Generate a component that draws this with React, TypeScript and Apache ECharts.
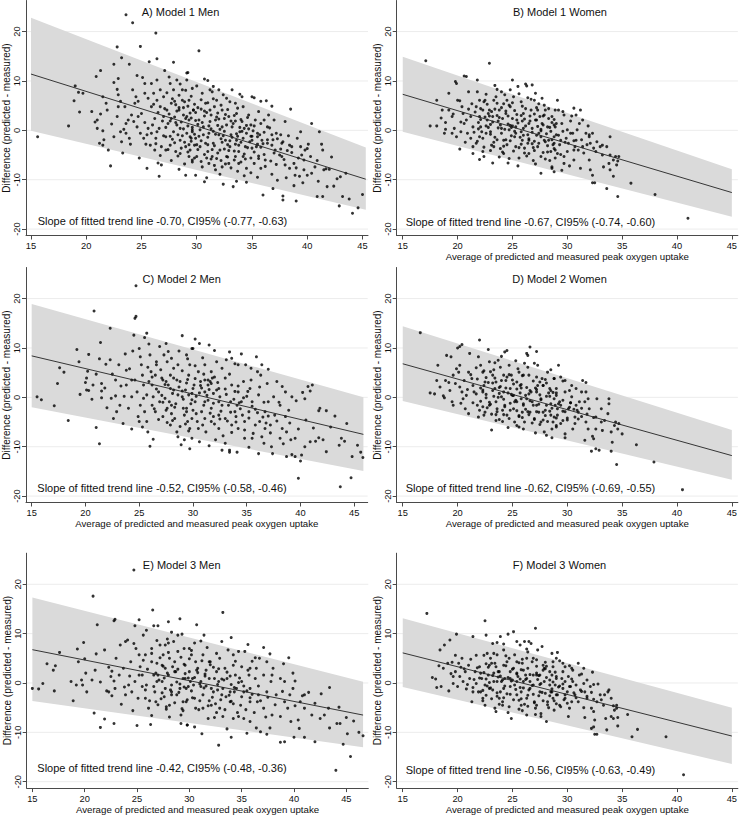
import React, { useEffect, useRef } from "react";
import * as echarts from "echarts";

const FONT = "'Liberation Sans', Arial, Helvetica, sans-serif";

const panelTitles = ["A) Model 1 Men", "B) Model 1 Women", "C) Model 2 Men", "D) Model 2 Women", "E) Model 3 Men", "F) Model 3 Women"];
const slopeTexts = [
  "Slope of fitted trend line -0.70, CI95% (-0.77, -0.63)",
  "Slope of fitted trend line -0.67, CI95% (-0.74, -0.60)",
  "Slope of fitted trend line -0.52, CI95% (-0.58, -0.46)",
  "Slope of fitted trend line -0.62, CI95% (-0.69, -0.55)",
  "Slope of fitted trend line -0.42, CI95% (-0.48, -0.36)",
  "Slope of fitted trend line -0.56, CI95% (-0.63, -0.49)",
];
const xTickValues = [15, 20, 25, 30, 35, 40, 45];
const yTickValues = [-20, -10, 0, 10, 20];
const xAxisTitle = "Average of predicted and measured peak oxygen uptake";
const yAxisTitle = "Difference (predicted - measured)";

// trend lines: [x, y] at both ends
const trendA = [[15, 11.4], [45.3, -9.9]];
const trendB = [[15, 7.3], [45, -12.6]];
const trendC = [[15, 8.4], [45.85, -7.5]];
const trendD = [[15, 6.8], [45, -11.8]];
const trendE = [[15, 6.75], [46.6, -6.5]];
const trendF = [[15, 6.1], [45, -10.75]];

// limits band: [x, lower, upper] at both ends
const bandA = [[15, -0.1, 22.8], [45.3, -16.1, -3.5]];
const bandB = [[15, -0.3, 14.9], [45, -17.5, -7.9]];
const bandC = [[15, -2.0, 18.9], [45.85, -14.9, 0.0]];
const bandD = [[15, -0.75, 14.4], [45, -16.7, -6.6]];
const bandE = [[15, -3.65, 17.3], [46.6, -13.0, 0.27]];
const bandF = [[15, -0.8, 13.1], [45, -16.4, -5.0]];

const pointsA = [[23.6,23.4],[24.2,21.8],[26.3,19.7],[15.6,-1.3],[22.8,16.9],[24.9,17.0],[23.2,14.7],[22.5,13.4],[23.9,13.4],[21.3,12.1],[20.9,10.9],[22.9,10.5],[24.6,11.1],[25.7,13.9],[26.4,14.5],[27.1,12.1],[19.0,9.0],[19.3,7.7],[19.7,7.5],[18.9,6.0],[19.4,3.7],[18.4,0.9],[21.5,6.8],[21.8,5.5],[22.8,8.3],[22.9,7.2],[21.3,3.3],[20.8,1.7],[21.0,2.1],[21.0,0.4],[21.2,-2.6],[21.5,-3.0],[22.0,-4.0],[22.2,-7.2],[21.5,-0.1],[21.9,4.1],[22.9,4.8],[23.5,4.8],[23.6,1.4],[23.8,2.1],[23.6,-0.6],[23.9,-1.6],[24.0,-2.8],[23.4,0.2],[24.4,5.5],[24.5,6.8],[24.2,8.2],[24.7,2.8],[25.0,3.4],[25.3,1.6],[25.5,-0.9],[25.4,-2.8],[25.8,-3.0],[25.5,-7.7],[26.5,-6.6],[26.8,-7.0],[26.1,7.5],[25.9,9.5],[26.4,10.2],[25.3,9.5],[25.1,10.7],[26.7,4.8],[26.4,6.1],[27.0,6.8],[27.3,4.1],[26.2,2.4],[26.6,0.4],[26.3,-1.6],[26.8,-3.3],[27.2,-4.0],[27.6,9.5],[27.9,8.2],[28.2,10.2],[27.9,13.8],[28.7,8.2],[27.7,2.4],[28.4,4.1],[28.7,6.1],[29.1,10.2],[29.1,11.6],[29.0,-9.1],[28.5,-4.7],[29.3,-5.3],[29.6,-6.4],[27.9,-0.3],[28.5,-2.0],[29.0,-3.3],[28.2,1.1],[29.3,2.1],[29.6,-0.3],[29.4,-1.3],[27.4,1.4],[27.7,5.5],[28.8,3.1],[28.5,0.4],[29.1,-0.6],[29.7,4.1],[29.8,-3.0],[27.2,-1.3],[27.6,-3.0],[28.1,-4.3],[27.0,2.8],[25.9,4.8],[25.6,0.4],[24.6,0.7],[24.9,-0.6],[24.1,3.1],[22.8,2.8],[22.3,1.3],[22.5,-1.3],[23.1,-0.3],[23.2,-2.3],[26.7,8.2],[25.6,6.5],[25.3,7.5],[26.2,-4.0],[25.9,-0.6],
[30.2,16.1],[30.7,10.4],[31.0,10.1],[31.5,8.9],[29.2,11.7],[38.5,4.3],[40.4,1.4],[41.1,-0.3],[35.0,6.8],[35.2,6.6],[35.8,5.9],[36.3,6.0],[32.7,6.5],[33.0,5.8],[29.9,-9.1],[30.7,-10.4],[32.4,-10.9],[33.6,-10.3],[34.5,-10.5],[33.3,-11.4],[36.0,-13.1],[36.9,-11.8],[37.8,-13.3],[37.8,-14.1],[39.0,-14.3],[40.9,-13.4],[41.4,-13.4],[41.8,-11.4],[42.4,-11.3],[42.9,-15.3],[43.2,-13.4],[43.8,-13.9],[44.1,-16.8],[44.6,-15.7],[45.0,-13.0],[43.5,-8.7],[42.0,-7.9],[41.7,-7.8],[41.4,-4.0],[41.3,-2.8],[41.5,-8.0],[40.1,-2.8],[39.8,-4.0],[39.7,-6.0],[39.7,-8.0],[40.0,-9.1],[39.3,-9.3],[38.9,-9.1],[38.8,-6.7],[38.4,-7.7],[38.0,-7.0],[37.7,-5.3],[37.5,-5.0],[37.6,-0.9],[37.7,-2.6],[37.1,-4.0],[36.8,-3.0],[36.8,-0.9],[36.4,0.7],[36.1,2.1],[36.5,3.1],[37.0,2.1],[38.3,-1.1],[38.6,-3.3],[39.1,-1.6],[39.4,-3.3],[39.5,-5.0],[40.3,-5.3],[40.7,-7.4],[36.2,-6.0],[35.6,-5.7],[35.8,-7.7],[35.2,-6.7],[34.5,-7.7],[34.2,-5.3],[33.8,-6.7],[33.5,-5.3],[32.9,-6.7],[32.7,-5.3],[32.3,-7.4],[31.7,-8.0],[31.1,-6.7],[30.5,-7.4],[29.6,-6.0],[29.4,-4.0],[29.3,6.1],[29.7,4.1],[30.2,2.1],[30.6,0.7],[31.1,-0.6],[29.9,-1.6],[30.3,-3.3],[31.0,-4.3],[31.5,-2.6],[32.0,-0.9],[32.3,0.7],[31.7,2.1],[31.2,4.1],[30.8,5.5],[31.8,6.1],[32.3,4.1],[32.9,2.8],[33.2,0.7],[32.6,-2.0],[33.0,-3.3],[33.6,-2.0],[33.9,-0.3],[34.1,1.8],[33.6,3.4],[33.5,5.5],[34.2,4.8],[34.7,3.1],[34.9,1.1],[34.5,-0.6],[35.0,-2.0],[35.5,-0.6],[35.3,2.1],[35.6,3.8],[35.9,-2.0],[35.0,-3.6],[34.4,-3.3],[33.8,-4.3],[32.1,-4.0],[31.4,-5.3],[30.0,-5.3],[29.6,0.1],[29.1,2.8],[32.0,8.2],[32.4,7.2],[31.4,7.8],[30.5,7.5],[29.6,8.5],[33.2,8.2],[34.1,6.8],
[27.3,7.6],[27.8,6.4],[28.1,5.2],[28.4,7.1],[28.9,5.8],[29.2,4.9],[29.5,6.9],[29.8,5.3],[30.1,4.6],[30.4,6.2],[30.7,3.9],[31.0,5.6],[31.3,3.1],[31.6,4.8],[31.9,3.5],[32.2,5.1],[32.5,2.4],[32.8,4.2],[33.1,1.9],[33.4,3.0],[33.7,4.5],[34.0,2.2],[34.3,0.4],[34.6,2.6],[34.9,-1.2],[35.2,0.9],[35.5,-2.8],[35.8,1.4],[36.1,-0.4],[36.4,-1.9],[26.1,5.3],[26.5,3.6],[26.9,1.9],[27.2,0.6],[27.5,3.3],[27.8,-1.8],[28.0,2.7],[28.3,-0.9],[28.6,1.7],[28.9,-2.4],[29.2,0.9],[29.5,2.5],[29.8,-0.8],[30.1,1.2],[30.4,-2.1],[30.7,2.9],[31.0,-1.4],[31.3,0.3],[31.6,-3.1],[31.9,1.0],[32.2,-1.7],[32.5,-0.2],[32.8,-2.9],[33.1,-0.9],[33.4,-4.2],[33.7,-1.2],[34.0,-2.4],[34.3,-4.8],[34.6,-3.5],[34.9,-5.6],[35.2,-4.4],[35.5,-1.3],[35.8,-3.4],[36.1,-4.9],[36.4,-2.6],[36.7,-6.2],[37.0,-4.6],[37.3,-1.7],[37.6,-3.8],[37.9,-5.9],[38.2,-4.1],[26.3,-2.7],[26.7,-5.1],[27.0,-1.1],[27.4,-3.9],[27.7,-6.1],[28.0,-2.5],[28.3,-5.2],[28.6,-3.6],[28.9,-6.8],[29.2,-4.4],[29.5,-2.2],[29.8,-5.6],[30.1,-3.9],[30.4,-6.3],[30.7,-4.9],[31.0,-2.9],[31.3,-5.8],[31.6,-7.1],[31.9,-4.6],[32.2,-6.1],[32.5,-3.8],[32.8,-5.4],[33.1,-7.6],[33.4,-6.0],[33.7,-8.3],[34.0,-6.4],[34.3,-9.2],[34.9,-8.6],[35.5,-9.5],[36.2,-7.3],[36.8,-8.9],[37.3,-10.1],[38.1,-9.6],[38.8,-11.2],[39.6,-10.6],[40.4,-8.7],[41.0,-10.3],[42.7,-9.8],[26.0,1.1],[26.4,-0.3],[27.1,4.4],[27.6,1.9],[28.2,3.9],[28.8,0.3],[29.0,8.1],[29.4,3.5],[29.9,2.0],[30.3,0.1],[30.6,-0.9],[30.9,3.6],[31.2,1.8],[31.5,-0.2],[31.8,2.7],[32.1,0.2],[32.4,-1.1],[32.7,1.1],[33.0,-2.1],[33.3,1.4],[33.6,-0.7],[33.9,0.6],[34.2,-1.6],[34.5,1.0],[34.8,-2.3],[35.1,-0.1],[35.4,-3.3],[35.7,-0.9],[36.0,-2.7],[36.6,0.5],[37.2,-0.6],[37.8,-2.3],[38.6,-4.5],[39.2,-5.6],[40.0,-3.7],[40.9,-6.1],[42.2,-5.4],[43.0,-9.4],[27.5,10.8],[28.5,9.4],[30.0,9.0],[31.2,8.2],[33.9,7.3],[36.8,4.9],[38.0,1.8],[39.4,-0.3],[24.7,5.9],[25.2,-1.6],[24.3,1.8],[23.1,5.9],[22.5,9.7],[20.5,3.8],[21.6,-1.9],[24.8,-5.6],[23.3,-4.6],[26.6,-9.3],[28.4,-7.9],[30.9,-9.6],[32.1,-8.9],
[28.1,1.6],[28.4,4.6],[28.7,-1.1],[29.0,2.4],[29.3,-2.9],[29.6,0.6],[29.9,3.6],[30.2,-1.2],[30.5,1.6],[30.8,-2.6],[31.1,0.9],[31.4,-3.9],[31.7,-0.8],[32.0,2.3],[32.3,-2.4],[32.6,3.2],[32.9,-4.1],[33.2,-1.4],[33.5,1.9],[33.8,-3.0],[34.1,-0.2],[34.4,-5.8],[34.7,0.3],[35.0,-1.2],[27.6,-1.2],[28.0,5.9],[28.8,4.6],[29.5,-1.6],[30.0,-2.9],[30.9,-5.6],[31.8,-5.7],[32.6,-6.8],[33.5,-2.8],[35.6,-5.2],[36.9,-1.9],[38.4,-3.0],[37.2,-6.9],[39.0,-7.6],[30.4,4.3],[31.5,6.4]];

const pointsB = [[17.1,14.1],[17.5,0.9],[18.1,0.9],[18.1,6.1],[18.6,4.1],[19.2,7.5],[19.2,4.1],[18.9,1.6],[18.9,0.2],[18.8,-0.6],[19.5,-0.6],[19.8,9.9],[19.9,9.5],[19.7,0.4],[19.5,2.8],[19.9,-1.3],[20.2,-3.8],[20.0,6.1],[20.2,6.0],[20.6,11.0],[20.8,10.9],[20.5,3.4],[20.8,2.1],[20.9,-0.6],[21.2,-1.6],[21.4,-3.3],[21.4,-4.7],[21.0,7.8],[21.8,10.2],[21.8,7.8],[22.0,6.1],[21.7,4.8],[22.0,2.8],[22.1,0.7],[22.0,-1.3],[21.7,-2.6],[22.3,-4.3],[22.4,-5.3],[22.9,13.6],[23.2,-6.6],[23.3,-3.3],[23.5,6.8],[23.6,8.3],[23.8,4.1],[23.9,1.1],[24.0,-0.6],[24.2,-2.0],[24.2,-4.7],[24.3,7.2],[24.5,6.1],[24.7,-5.7],[25.0,10.2],[24.8,8.2],[24.8,4.8],[25.0,2.4],[25.3,0.7],[25.2,-1.3],[25.3,-3.3],[25.5,-7.2],[25.5,8.9],[25.8,5.8],[26.0,3.4],[26.2,9.4],[26.3,9.0],[26.5,1.4],[26.5,-2.0],[26.5,-4.7],[26.8,9.2],[27.1,7.5],[27.0,6.1],[27.3,4.1],[27.1,2.1],[27.4,-0.6],[27.3,-3.3],[27.6,-5.3],[27.6,-8.7],[27.7,6.5],[27.9,3.1],[28.2,0.7],[28.3,-2.0],[28.5,-4.3],[28.6,-7.7],[28.8,-8.4],[28.9,4.1],[29.1,6.1],[22.9,4.1],[22.7,2.1],[22.6,-0.6],[23.0,-0.3],[23.2,2.8],[23.6,5.5],[24.4,3.4],[24.7,0.1],[25.8,-0.3],[25.9,-2.0],[26.1,-3.6],[26.8,0.4],[26.7,4.1],[27.7,1.4],[27.9,-2.0],[28.3,2.4],[28.8,1.1],[28.8,-2.6],[29.1,-4.7],[22.5,6.1],[22.3,4.1],[21.4,0.7],[21.2,2.8],[20.6,1.4],[20.3,-0.3],
[29.2,4.1],[29.7,3.1],[28.6,2.8],[29.5,1.4],[28.9,0.7],[30.0,0.1],[28.8,-1.3],[29.4,-2.0],[30.1,-2.6],[28.9,-4.0],[29.7,-5.3],[28.6,-7.4],[29.7,-6.7],[30.6,-6.0],[30.6,-4.0],[30.8,-2.0],[30.5,-0.6],[30.9,0.1],[31.1,1.4],[30.8,3.1],[30.6,4.5],[31.4,2.1],[31.7,-0.6],[32.0,-0.9],[32.3,-0.6],[32.1,-2.6],[31.4,-3.3],[32.0,-6.0],[32.1,-8.0],[32.3,-9.1],[32.3,-10.6],[32.5,-10.6],[31.2,-7.7],[32.6,-4.3],[33.0,-3.3],[33.2,-5.0],[33.3,-7.4],[33.6,-11.8],[33.9,-8.0],[33.8,-6.7],[33.9,-5.0],[34.2,-6.0],[34.4,-5.3],[34.5,-7.0],[34.6,-6.2],[34.7,-5.3],[34.2,-9.3],[34.6,-13.4],[35.8,-10.7],[38.0,-13.0],[41.0,-17.8],[32.7,-2.3],[33.6,-3.3],[33.9,-1.3],[33.2,-3.0],[32.0,-1.3],[31.2,4.1],
[21.3,5.4],[21.6,3.7],[21.9,1.6],[22.2,-0.3],[22.5,2.7],[22.8,0.6],[23.1,3.8],[23.4,-1.4],[23.7,1.9],[24.0,4.6],[24.3,0.2],[24.6,2.9],[24.9,-1.1],[25.2,4.0],[25.5,1.5],[25.8,-2.8],[26.1,2.3],[26.4,-0.9],[26.7,6.3],[27.0,-2.2],[27.3,0.8],[27.6,-1.3],[27.9,5.1],[28.2,-3.1],[28.5,-0.2],[28.8,2.2],[21.5,-0.4],[21.8,-2.2],[22.1,4.4],[22.4,-3.4],[22.7,5.3],[23.0,1.2],[23.3,-2.4],[23.6,3.0],[23.9,-3.7],[24.2,5.4],[24.5,-2.9],[24.8,1.0],[25.1,-4.2],[25.4,3.2],[25.7,-1.4],[26.0,0.4],[26.3,-5.2],[26.6,2.9],[26.9,-3.5],[27.2,-1.0],[27.5,2.8],[27.8,-4.5],[28.1,-0.7],[28.4,-6.1],[28.7,-2.9],[29.0,-0.9],[21.0,4.3],[20.4,4.8],[20.7,-2.4],[22.6,7.3],[23.4,9.1],[24.0,7.8],[24.6,-6.6],[25.1,6.8],[25.6,7.4],[26.9,-6.1],[27.4,5.4],[28.0,-5.8],[28.6,1.6],[29.3,-2.9],[29.9,-1.6],[30.3,1.9],[30.7,-3.3],[31.5,-4.6],[31.9,0.9],[29.5,-8.1],[30.2,-7.2],[23.0,-4.1],[23.8,-5.4],[22.0,-5.9],[24.9,0.6],[25.9,1.9],[26.5,-1.7],[27.0,3.3],[27.6,0.2],[24.4,-1.9],[25.3,-0.6],[23.7,0.5],[22.9,2.9],[26.2,4.4],[27.8,1.1],[28.3,4.4],[21.9,0.3],[20.3,1.7],[19.6,3.3],[18.5,2.5],[24.1,2.4],[25.0,5.6],[26.8,-2.7],[28.9,-5.6],
[22.1,2.2],[22.3,-1.6],[22.6,0.9],[22.8,3.4],[23.0,-0.8],[23.2,1.7],[23.4,4.3],[23.6,-1.9],[23.8,2.6],[24.0,0.4],[24.2,-3.2],[24.4,3.9],[24.6,1.3],[24.8,-2.1],[25.0,0.9],[25.2,-0.2],[25.4,2.1],[25.6,-3.5],[25.8,3.0],[26.0,-1.0],[26.2,0.9],[26.4,-2.6],[26.6,1.9],[26.8,-0.4],[27.0,-4.1],[27.2,2.1],[27.4,-2.6],[27.6,-0.1],[27.8,2.9],[28.0,-2.3],[28.2,-4.4],[28.4,0.6],[28.6,-1.9],[28.8,-3.7],[29.0,1.4],[29.2,-1.0],[29.4,-4.9],[29.6,-0.2],[29.8,-2.4],[30.0,-4.3],[30.3,-0.6],[30.6,-2.1],[31.0,-4.0],[31.3,-1.9],[31.8,-2.9],[32.4,-3.6],[23.1,-3.0],[24.1,-4.4],[25.6,-5.6],[26.1,-4.6],[27.1,-6.8],[22.4,5.8],[23.3,6.1],[24.7,5.1],[25.9,4.9],[26.4,6.6],[27.2,4.6],[28.0,4.1],[29.6,3.8],[30.4,2.9]];

const pointsC = [[15.5,0.1],[15.9,-0.5],[17.1,-1.7],[17.4,2.8],[17.6,6.0],[18.0,5.1],[18.4,-4.7],[19.2,9.7],[19.4,7.2],[20.0,3.0],[20.1,1.5],[20.3,1.4],[20.3,8.7],[20.2,5.3],[20.1,3.9],[20.8,17.5],[20.7,2.5],[21.0,4.7],[21.0,-6.1],[21.3,-9.4],[21.3,7.8],[21.4,11.1],[21.5,2.8],[21.5,1.3],[21.5,-0.1],[21.9,6.7],[22.0,-2.1],[22.3,14.0],[22.3,7.6],[22.6,-4.3],[22.8,3.5],[22.8,0.3],[23.1,6.6],[23.3,2.3],[23.5,-5.3],[23.7,8.8],[23.8,5.5],[24.0,-2.2],[24.4,9.4],[24.3,3.5],[24.5,12.6],[24.6,16.0],[24.7,16.4],[24.7,22.6],[24.6,3.5],[24.8,1.1],[24.9,-3.9],[25.0,-4.9],[25.0,9.9],[25.1,8.2],[25.2,6.6],[25.3,4.5],[25.4,2.5],[25.4,-0.2],[25.5,-2.9],[25.5,12.1],[25.7,13.0],[25.8,-7.0],[25.9,10.8],[26.0,8.6],[26.1,5.2],[26.2,2.5],[26.2,-1.6],[26.3,-8.5],[26.5,-2.9],[26.6,6.6],[26.8,1.1],[26.9,10.3],[27.1,3.9],[27.2,-3.9],[27.4,-0.2],[27.5,10.9],[27.6,7.2],[27.7,9.3],[27.9,4.5],[28.0,-1.6],[28.2,1.5],[28.3,-4.3],[28.5,-7.0],[28.6,-8.0],[28.6,6.6],[28.8,3.2],[29.0,12.5],[29.0,0.1],[29.1,-2.2],[29.2,-8.6],[29.4,8.6],[29.5,-4.9],[29.6,4.5],[29.7,-6.3],[29.9,-0.5],[30.0,9.9],[30.1,2.5],[25.7,0.5],[26.3,0.1],[26.9,-0.9],[27.6,-2.2],[27.7,2.5],[28.2,5.9],[28.5,3.5],[29.3,1.5],[29.4,-2.9],[27.9,-5.6],[27.2,3.5],[26.5,4.5],[25.9,3.2],[24.3,0.1],[23.8,2.5],[23.2,-1.6],[22.9,-2.9],[22.4,-0.2],[25.1,-1.6],[25.7,-4.9],
[30.2,11.8],[30.6,10.9],[31.5,10.6],[29.9,9.9],[35.9,8.2],[33.6,7.9],[33.9,6.8],[34.2,6.6],[34.9,6.6],[36.4,6.6],[37.0,5.7],[36.3,4.5],[36.0,5.2],[40.7,2.2],[41.1,2.5],[39.2,0.1],[40.4,-0.3],[41.8,-2.2],[42.4,-2.7],[41.7,-2.7],[40.9,1.3],[39.8,-16.4],[43.7,-18.1],[44.7,-16.3],[43.8,-8.3],[44.1,-8.9],[44.8,-12.0],[45.3,-9.7],[45.8,-12.2],[45.6,-11.1],[43.6,-9.7],[42.4,-11.0],[42.1,-8.6],[41.7,-8.2],[41.4,-8.9],[40.9,-9.0],[40.4,-10.0],[40.1,-11.7],[40.0,-12.9],[39.5,-12.0],[39.2,-11.6],[38.7,-12.0],[39.5,-8.3],[39.1,-8.6],[38.7,-7.0],[38.3,-6.3],[38.1,-8.3],[37.4,-11.4],[37.3,-10.0],[36.1,-11.4],[35.5,-8.3],[34.8,-8.3],[34.1,-11.1],[33.4,-11.1],[33.4,-10.7],[32.7,-10.7],[32.1,-8.6],[30.6,-9.0],[29.9,-8.3],[37.2,-5.6],[36.7,-6.3],[36.2,-4.9],[35.8,-5.6],[37.6,-3.6],[38.1,-1.6],[38.6,-3.9],[37.5,0.1],[37.0,-0.9],[36.7,-2.9],[35.5,-0.9],[35.2,-2.9],[34.8,-4.9],[34.2,-6.3],[33.6,-5.6],[33.0,-4.3],[32.4,-6.3],[31.7,-4.9],[31.1,-4.3],[30.5,-6.3],[29.9,-4.3],[29.4,-2.2],[30.2,-0.9],[31.0,-1.6],[31.7,-2.2],[32.4,-0.9],[33.3,-1.6],[33.9,-2.9],[34.5,-0.9],[36.1,0.5],[35.3,1.8],[34.7,3.2],[34.2,1.1],[33.6,2.5],[33.0,3.9],[32.4,1.8],[31.9,0.8],[31.4,2.5],[31.1,1.1],[30.7,3.2],[30.0,1.8],[29.6,0.5],[30.5,5.2],[31.1,6.6],[31.7,5.2],[32.2,7.2],[32.7,5.9],[33.1,7.6],[29.7,6.6],[31.1,3.5],[31.6,3.2],[31.7,2.8],[31.4,3.5],[37.8,3.2],[38.6,1.1],[38.3,2.2],
[26.2,4.1],[26.6,1.7],[27.0,5.6],[27.4,2.6],[27.8,-0.9],[28.2,3.9],[28.6,0.5],[29.0,5.4],[29.4,2.9],[29.8,-1.3],[30.2,3.8],[30.6,0.9],[31.0,4.7],[31.4,-0.6],[31.8,3.9],[32.2,1.5],[32.6,-2.8],[33.0,1.7],[33.4,4.7],[33.8,-0.4],[34.2,2.3],[34.6,-3.6],[35.0,0.2],[35.4,3.5],[35.8,-2.4],[36.2,2.1],[36.6,-1.0],[37.0,-3.8],[26.4,-2.3],[26.8,-4.5],[27.2,-1.0],[27.6,-5.1],[28.0,-3.3],[28.4,-1.3],[28.8,-5.9],[29.2,-3.6],[29.6,-6.8],[30.0,-2.6],[30.4,-4.9],[30.8,-2.9],[31.2,-7.0],[31.6,-3.2],[32.0,-5.4],[32.4,-3.6],[32.8,-7.8],[33.2,-4.8],[33.6,-7.1],[34.0,-5.0],[34.4,-2.3],[34.8,-6.6],[35.2,-4.2],[35.6,-7.3],[36.0,-3.1],[36.4,-8.0],[36.8,-5.2],[37.2,-7.2],[37.8,-4.8],[38.4,-9.4],[39.0,-5.2],[39.8,-6.4],[40.5,-4.6],[41.2,-6.2],[42.8,-6.0],[43.2,-3.8],[44.3,-5.3],[27.3,8.6],[28.7,9.4],[29.5,7.8],[30.9,8.0],[32.0,9.5],[33.4,9.2],[34.5,8.8],[35.4,5.9],[36.9,2.8],[38.0,-1.0],[38.9,-2.6],[39.6,-0.7],[40.2,1.0],[30.3,0.2],[30.8,1.9],[31.3,0.4],[31.9,-1.2],[32.5,0.1],[33.5,-0.9],[34.1,-1.6],[35.1,1.2],[29.0,1.3],[28.1,0.8],[27.5,-2.6],[26.6,7.2],[25.8,6.1],[25.3,-6.0],[24.1,5.8],[23.6,0.2],[22.5,4.7],[21.8,1.9],[20.6,-0.4],[19.5,0.6],[24.3,-6.4],[26.0,-9.9],[29.7,-10.4],[31.5,-9.8],[35.2,-10.1],[36.6,-9.3],[33.0,-9.3],[28.9,-9.6],
[27.1,0.4],[27.5,3.2],[27.9,1.8],[28.3,-2.0],[28.7,2.1],[29.1,-0.4],[29.5,3.6],[29.9,0.8],[30.3,-3.3],[30.7,2.4],[31.1,-0.9],[31.5,1.6],[31.9,-3.9],[32.3,3.0],[32.7,-1.6],[33.1,0.6],[33.5,-3.0],[33.9,1.2],[34.3,-1.1],[34.7,-0.1],[28.1,-4.7],[29.3,-5.4],[30.9,-5.6],[32.5,-4.4],[34.0,-3.9],[35.5,-1.8],[36.5,-4.0],[28.0,7.9],[30.2,6.4],[32.0,4.1]];

const pointsD = [[16.6,13.1],[17.5,0.9],[17.9,0.7],[18.2,6.5],[18.1,3.4],[18.4,2.1],[18.7,0.3],[18.8,-0.1],[19.0,8.5],[19.4,8.2],[18.9,3.4],[19.3,1.4],[19.5,-0.9],[19.6,-1.6],[19.8,2.8],[20.0,10.0],[20.2,10.3],[20.4,10.7],[19.9,5.8],[20.1,5.1],[20.2,6.5],[20.2,2.1],[20.4,1.1],[20.5,-0.3],[20.7,-2.3],[21.0,-3.3],[21.1,8.9],[21.3,3.8],[21.4,2.4],[21.7,0.7],[21.8,-1.6],[21.9,-4.0],[22.0,11.6],[21.9,8.2],[22.1,6.5],[22.3,5.1],[22.5,3.1],[22.6,-0.1],[22.5,-3.0],[22.8,9.7],[22.9,7.2],[23.1,-6.6],[23.2,4.5],[23.4,1.8],[23.5,-0.9],[23.5,-4.7],[23.7,7.5],[23.9,6.1],[24.0,3.4],[24.2,1.1],[24.3,-1.6],[24.5,-3.6],[24.3,9.2],[24.5,9.5],[24.7,6.5],[24.9,4.5],[25.1,0.4],[25.1,-2.3],[25.2,-5.0],[25.4,-5.7],[25.5,5.8],[25.7,2.4],[25.8,-0.3],[25.9,-3.0],[26.0,-6.4],[26.3,8.9],[26.4,8.5],[26.6,10.2],[26.5,4.5],[26.7,1.1],[26.9,-1.6],[27.0,-4.3],[27.2,9.3],[27.3,6.5],[27.5,3.1],[27.6,-0.3],[27.8,-3.0],[27.9,-7.0],[28.1,-7.7],[28.2,5.1],[28.4,1.8],[28.5,-1.3],[28.6,-8.2],[28.7,-5.0],[28.8,3.8],[29.0,0.4],[29.1,-2.3],[29.2,6.5],[23.5,3.1],[24.2,4.5],[24.8,1.8],[25.4,3.1],[26.0,4.5],[26.3,-0.3],[26.6,-3.0],[27.2,1.1],[27.8,2.4],[28.1,-1.6],[28.5,-3.6],[29.0,-5.7],[22.9,-1.6],[22.3,1.1],[21.0,5.1],[20.8,0.4],[25.4,-0.9],[27.2,-1.6],[27.6,-5.0],
[29.4,4.1],[29.8,3.4],[28.8,3.8],[29.0,1.8],[29.8,1.1],[30.2,1.4],[30.4,0.1],[28.8,-0.3],[29.4,-1.6],[30.1,-2.3],[29.1,-3.6],[29.6,-4.7],[29.0,-6.0],[29.8,-7.4],[29.8,-8.2],[30.5,-6.4],[30.7,-5.3],[30.7,-4.0],[31.0,-3.0],[30.8,-1.6],[31.1,-0.9],[31.3,1.1],[30.8,1.8],[31.7,1.1],[31.6,-0.9],[31.9,-0.3],[32.0,-2.3],[31.7,-5.0],[31.9,-6.4],[31.6,-8.7],[32.2,-10.9],[32.3,-7.9],[32.4,-8.4],[32.6,-10.4],[32.9,-10.7],[32.6,-6.4],[32.6,-4.0],[32.7,-0.3],[33.1,-2.3],[33.1,-5.0],[33.2,-6.7],[33.4,-4.7],[33.7,-3.3],[33.8,-1.3],[34.0,-7.0],[34.0,-10.9],[34.1,-9.1],[34.3,-5.7],[34.4,-5.0],[34.6,-6.4],[34.7,-5.3],[35.0,-7.4],[34.5,-13.6],[36.3,-9.6],[37.9,-13.1],[40.5,-18.7],[31.7,3.0],[31.4,3.4],[28.5,1.4],[30.2,-2.0],[33.8,-0.3],
[21.2,4.6],[21.5,1.1],[21.8,3.7],[22.1,-0.8],[22.4,2.4],[22.7,-2.1],[23.0,5.2],[23.3,0.2],[23.6,-2.9],[23.9,2.2],[24.2,-0.4],[24.5,4.1],[24.8,-1.2],[25.1,2.7],[25.4,-2.7],[25.7,0.9],[26.0,-1.6],[26.3,2.0],[26.6,-0.7],[26.9,3.3],[27.2,-2.9],[27.5,0.5],[27.8,-4.6],[28.1,0.2],[28.4,-2.8],[28.7,1.0],[29.0,-4.2],[21.4,-1.1],[21.7,6.0],[22.0,-2.6],[22.3,1.5],[22.6,4.0],[22.9,-1.0],[23.2,2.9],[23.5,-3.5],[23.8,0.8],[24.1,-2.6],[24.4,1.9],[24.7,-4.3],[25.0,3.5],[25.3,-0.6],[25.6,5.1],[25.9,-4.1],[26.2,-2.4],[26.5,0.7],[26.8,-5.2],[27.1,1.9],[27.4,-1.4],[27.7,3.8],[28.0,-3.7],[28.3,0.9],[28.6,-6.4],[28.9,-1.6],[29.3,-0.9],[29.6,-2.8],[30.0,-4.2],[30.3,-1.1],[30.9,-2.6],[31.3,-3.9],[20.6,3.4],[20.9,1.6],[19.6,4.5],[20.3,-1.2],[19.2,3.0],[23.4,7.0],[24.0,8.3],[25.3,7.4],[26.1,6.9],[27.0,6.9],[28.5,5.6],[24.6,-6.1],[25.6,-3.7],[26.5,-3.5],[27.5,-5.5],[22.4,-3.6],[23.8,-4.5],[24.9,0.6],[24.3,-1.9],[23.7,0.0],[25.8,1.9],[27.3,2.4],[28.1,2.9],
[22.1,1.9],[22.3,-1.9],[22.6,0.6],[22.8,3.0],[23.0,-1.4],[23.2,1.4],[23.4,3.9],[23.6,-2.3],[23.8,2.0],[24.0,0.1],[24.2,-3.5],[24.4,3.4],[24.6,0.9],[24.8,-2.6],[25.0,0.4],[25.2,-0.9],[25.4,1.7],[25.6,-3.9],[25.8,2.6],[26.0,-1.3],[26.2,0.4],[26.4,-2.9],[26.6,1.4],[26.8,-0.9],[27.0,-4.5],[27.2,1.6],[27.4,-3.0],[27.6,-0.5],[27.8,2.4],[28.0,-2.6],[28.2,-4.9],[28.4,0.2],[28.6,-2.2],[28.8,-4.0],[29.0,0.9],[29.2,-1.3],[29.4,-5.3],[29.6,-0.6],[29.8,-2.9],[30.0,-4.6],[30.3,-1.1],[30.6,-2.4],[31.0,-4.4],[31.3,-2.2],[31.8,-3.4],[32.4,-4.1],[23.1,-3.4],[24.1,-4.9],[25.6,-6.0],[26.1,-5.0],[27.1,-7.2],[22.4,5.4],[23.3,5.6],[24.7,4.6],[25.9,4.4],[26.4,6.1],[27.2,4.1],[28.0,3.6],[29.6,3.3],[30.4,2.4]];

const pointsE = [[15.0,-1.1],[15.6,-1.2],[16.0,-0.1],[16.4,3.9],[17.0,2.6],[17.2,3.5],[17.1,-1.6],[17.6,6.2],[18.7,0.3],[18.9,-3.6],[19.2,-0.4],[19.3,6.9],[19.4,4.3],[19.7,0.6],[19.8,-0.4],[19.9,8.2],[20.0,4.9],[20.1,2.0],[20.2,-1.8],[20.7,0.6],[20.8,17.6],[20.9,-6.1],[21.1,5.9],[21.2,11.8],[21.5,0.2],[21.5,-9.0],[21.9,6.7],[21.9,-7.3],[22.1,-1.6],[22.3,-1.8],[22.6,-2.6],[22.8,-8.2],[22.8,12.6],[22.9,12.9],[22.6,2.4],[22.5,1.3],[22.8,0.4],[22.9,-1.1],[23.0,5.0],[23.4,7.7],[23.5,-4.3],[23.7,3.0],[23.9,8.4],[24.1,8.7],[24.2,-0.4],[24.4,4.3],[24.5,-1.8],[24.6,-5.6],[24.7,22.9],[24.7,8.0],[24.8,11.6],[24.9,7.0],[25.0,-8.6],[25.1,-3.1],[25.2,12.8],[25.2,1.6],[25.3,3.3],[25.5,-0.7],[25.6,9.7],[25.8,5.7],[25.9,10.7],[26.1,-5.1],[26.3,-8.4],[26.4,7.0],[26.5,14.8],[26.6,11.6],[26.6,1.6],[26.7,-1.8],[26.8,-3.8],[26.9,4.0],[27.0,11.6],[27.2,7.7],[27.4,0.3],[27.5,5.7],[27.6,-2.8],[27.7,3.0],[27.8,-4.8],[28.0,12.4],[28.1,5.0],[28.3,10.3],[28.3,-0.4],[28.5,8.4],[28.6,2.3],[28.8,-2.4],[28.9,6.4],[29.1,13.0],[29.2,-6.5],[29.2,-8.2],[29.4,0.9],[29.6,3.6],[29.7,-3.8],[29.8,-8.5],[29.9,-0.7],[30.0,7.0],[25.5,1.6],[25.9,-0.4],[26.4,4.3],[27.0,1.6],[27.7,-1.1],[28.0,1.6],[28.6,4.3],[29.1,-1.1],[29.4,-3.8],[28.3,-2.4],[27.4,3.6],[26.9,0.3],[25.8,-3.1],[24.8,0.3],[23.9,-2.4],[23.3,1.6],[25.2,5.7],[27.7,7.7],[28.9,9.7],[29.6,0.9],
[33.2,14.3],[30.7,11.8],[31.1,8.5],[31.4,9.7],[37.1,7.2],[33.7,6.7],[34.7,6.4],[35.3,6.4],[32.6,6.0],[29.5,7.0],[30.2,5.7],[31.9,4.3],[36.3,5.1],[36.7,5.0],[38.0,3.0],[39.9,2.0],[40.1,0.4],[41.4,-1.9],[43.4,-0.9],[40.8,-2.6],[39.9,-1.1],[38.7,0.9],[37.8,0.3],[37.4,-1.8],[38.3,-2.4],[39.1,-3.8],[39.4,-5.1],[38.7,-6.8],[39.7,-7.8],[40.4,-7.5],[41.0,-5.1],[41.7,-6.5],[42.5,-7.2],[42.9,-6.5],[43.3,-5.1],[44.1,-8.2],[44.4,-8.2],[45.0,-7.0],[43.4,-9.1],[45.1,-10.3],[46.2,-10.0],[46.6,-10.7],[44.7,-12.4],[45.4,-14.9],[44.0,-17.7],[41.0,-11.0],[42.0,-11.9],[40.0,-11.0],[39.1,-11.9],[38.7,-12.0],[34.0,-11.0],[32.8,-12.6],[37.4,-10.4],[36.8,-9.9],[36.4,-9.1],[35.8,-7.8],[35.2,-7.2],[34.7,-6.8],[34.2,-7.2],[33.2,-6.8],[32.4,-7.0],[31.8,-7.2],[30.5,-8.9],[29.8,-8.5],[31.3,-5.1],[32.1,-4.5],[32.9,-5.1],[33.9,-3.8],[34.9,-4.5],[35.8,-3.8],[36.6,-2.4],[35.8,-1.1],[35.2,-1.8],[34.5,-1.1],[33.9,-1.8],[33.1,-2.4],[32.3,-1.8],[31.3,-2.4],[30.5,-3.1],[29.7,-1.1],[30.3,0.9],[31.1,0.3],[31.9,0.9],[32.8,0.3],[33.6,0.9],[34.4,1.6],[35.0,0.3],[35.7,1.6],[36.3,0.9],[37.1,1.6],[35.8,3.0],[35.0,3.3],[34.2,3.6],[33.4,3.0],[32.6,2.3],[31.6,2.6],[30.8,3.0],[30.0,2.3],[30.6,4.3],[31.3,5.7],[32.9,5.0],[34.2,5.7],[37.4,4.3],[37.9,1.6],[39.1,0.3],[39.6,-2.4],[40.6,-3.8],[37.1,-5.1],[37.9,-6.5],
[25.6,4.6],[26.0,2.8],[26.4,6.0],[26.8,2.0],[27.2,5.1],[27.6,1.0],[28.0,6.2],[28.4,3.3],[28.8,0.2],[29.2,5.2],[29.6,1.9],[30.0,4.9],[30.4,-0.4],[30.8,2.1],[31.2,4.5],[31.6,-0.6],[32.0,3.7],[32.4,0.9],[32.8,2.9],[33.2,-1.1],[33.6,2.2],[34.0,-0.3],[34.4,4.4],[34.8,1.0],[35.2,-0.6],[35.6,2.6],[36.0,-2.3],[36.4,3.0],[25.8,-1.4],[26.2,-3.6],[26.6,-0.7],[27.0,-4.4],[27.4,-2.0],[27.8,-5.3],[28.2,-1.4],[28.6,-4.0],[29.0,-1.9],[29.4,-5.6],[29.8,-3.4],[30.2,-1.6],[30.6,-5.1],[31.0,-3.6],[31.4,-1.0],[31.8,-4.6],[32.2,-2.9],[32.6,-6.0],[33.0,-3.4],[33.4,-5.4],[33.8,-2.5],[34.2,-4.2],[34.6,-6.0],[35.0,-2.8],[35.4,-5.4],[35.8,-3.0],[36.2,-6.0],[36.8,-3.6],[37.3,-6.9],[38.2,-4.4],[38.9,-1.7],[40.1,-4.6],[41.0,-2.4],[42.0,-4.1],[42.6,-2.2],[44.3,-4.9],[45.7,-7.7],[26.9,8.6],[27.9,8.9],[29.3,9.9],[30.5,8.1],[31.7,7.2],[33.1,8.4],[34.0,9.2],[35.6,7.8],[36.0,4.4],[37.7,5.9],[39.0,3.9],[39.5,5.1],[30.1,0.3],[30.5,1.1],[31.0,-0.2],[31.5,1.4],[32.1,-1.1],[32.7,-0.3],[33.3,0.6],[34.3,-1.8],[36.6,-0.6],[37.5,-2.9],[28.9,2.8],[29.5,-0.8],[27.3,-3.2],[24.3,1.4],[23.8,-0.8],[22.3,3.2],[21.0,2.6],[26.4,-6.6],[28.1,-6.9],[31.2,-10.3],[33.6,-9.3],[35.5,-10.2],[37.7,-9.1],[40.5,-9.2],
[27.1,0.6],[27.5,3.4],[27.9,2.0],[28.3,-1.8],[28.7,2.3],[29.1,-0.2],[29.5,3.8],[29.9,1.0],[30.3,-3.0],[30.7,2.6],[31.1,-0.7],[31.5,1.8],[31.9,-3.6],[32.3,3.2],[32.7,-1.4],[33.1,0.8],[33.5,-2.8],[33.9,1.4],[34.3,-0.9],[34.7,0.1],[28.1,-4.5],[29.3,-5.2],[30.9,-5.4],[32.5,-4.2],[34.0,-3.7],[35.5,-1.6],[36.5,-3.8],[28.0,8.1],[30.2,6.6],[32.0,4.3]];

const pointsF = [[17.2,14.1],[17.7,1.1],[18.0,0.8],[18.1,-0.9],[18.3,3.5],[18.4,6.7],[18.5,-0.7],[18.7,3.0],[18.8,7.7],[19.1,4.0],[19.2,-1.6],[19.3,8.7],[19.5,4.2],[19.6,1.3],[19.6,-0.1],[19.8,2.3],[19.9,9.9],[20.0,-0.7],[20.1,4.0],[20.2,1.3],[20.4,5.0],[20.5,0.3],[20.7,2.3],[20.8,-1.2],[21.0,3.6],[21.1,0.9],[21.3,-3.8],[21.4,9.4],[21.6,2.3],[21.7,-0.1],[21.9,-1.8],[22.0,3.3],[22.2,0.9],[22.3,-3.1],[22.5,-4.5],[22.5,12.6],[22.6,9.7],[22.7,6.0],[22.8,1.6],[22.9,-1.1],[23.1,4.0],[23.2,8.0],[23.3,0.3],[23.4,-5.1],[23.5,-5.8],[23.6,5.7],[23.7,2.3],[23.9,-1.8],[23.9,9.4],[24.1,-3.8],[24.2,6.7],[24.3,0.9],[24.5,4.3],[24.6,9.9],[24.8,-0.7],[24.9,-7.2],[25.1,10.4],[25.1,3.0],[25.2,5.7],[25.4,-2.4],[25.5,1.3],[25.7,7.7],[25.8,-4.5],[25.9,4.0],[26.0,0.3],[26.1,8.4],[26.3,-6.5],[26.4,3.0],[26.5,8.4],[26.6,-1.1],[26.7,8.0],[26.9,5.0],[27.0,-3.8],[27.1,11.1],[27.2,1.6],[27.3,6.7],[27.5,-1.8],[27.6,-6.8],[27.8,3.6],[27.9,0.3],[28.1,-7.8],[28.2,-3.8],[28.4,2.3],[28.5,-1.8],[28.7,4.3],[28.8,-5.5],[29.0,0.9],[29.1,6.2],[29.1,-2.4],[23.6,0.3],[24.2,-1.1],[24.8,2.3],[25.4,0.3],[25.8,-1.8],[26.3,0.9],[26.9,-0.4],[27.5,1.6],[27.9,3.0],[28.4,-0.4],[28.7,-3.1],[22.5,-0.4],[21.4,-1.8],[22.9,3.6],[25.4,4.3],[26.9,1.6],[27.2,-4.5],[26.3,5.0],
[29.0,5.0],[29.3,4.5],[28.7,3.3],[29.8,3.3],[28.6,1.6],[29.5,0.9],[30.1,1.3],[28.9,-0.4],[29.6,-1.1],[30.2,-0.7],[29.0,-2.4],[29.8,-3.1],[29.3,-4.5],[30.2,-5.1],[30.1,-6.8],[30.4,-3.8],[30.7,-2.4],[30.8,-0.4],[31.1,1.6],[31.3,1.8],[31.5,-0.1],[31.6,-1.8],[31.5,-5.0],[31.6,-7.0],[31.8,-3.1],[32.1,-0.7],[32.2,-1.9],[32.3,2.2],[32.4,-0.3],[32.2,-5.1],[32.4,-5.8],[32.5,-7.5],[32.4,-8.9],[32.2,-9.2],[32.5,-10.4],[32.7,-10.4],[32.7,-3.8],[32.8,-0.2],[33.0,-2.4],[33.1,-3.4],[33.3,-4.5],[33.4,-2.4],[33.5,-7.2],[33.6,-9.5],[33.7,-1.8],[33.8,-1.4],[34.0,-3.1],[34.2,-4.6],[34.2,-7.2],[34.3,-5.5],[34.5,-5.1],[34.6,-7.0],[34.6,-8.7],[34.5,-4.5],[34.0,-6.8],[35.5,-6.4],[35.9,-10.9],[36.4,-9.4],[39.0,-10.9],[40.6,-18.6],[30.5,2.6],[31.0,4.0],[31.8,0.6],[31.5,3.0],[30.2,3.5],[29.6,2.3],[29.8,0.3],[30.5,0.3],
[21.2,4.8],[21.5,0.7],[21.8,3.1],[22.1,-1.8],[22.4,2.1],[22.7,-0.6],[23.0,5.0],[23.3,2.0],[23.6,-2.7],[23.9,1.4],[24.2,3.6],[24.5,-2.2],[24.8,0.9],[25.1,-3.4],[25.4,1.8],[25.7,-0.9],[26.0,2.6],[26.3,-3.1],[26.6,0.3],[26.9,-2.3],[27.2,3.4],[27.5,-0.3],[27.8,-3.6],[28.1,1.1],[28.4,-2.6],[28.7,0.2],[29.0,-4.2],[21.4,-0.9],[21.7,5.6],[22.0,1.0],[22.3,-3.6],[22.6,3.9],[22.9,0.1],[23.2,-1.4],[23.5,3.3],[23.8,-4.3],[24.1,0.6],[24.4,5.5],[24.7,-4.8],[25.0,2.8],[25.3,-1.3],[25.6,4.1],[25.9,-5.6],[26.2,1.6],[26.5,-1.4],[26.8,4.3],[27.1,-5.1],[27.4,1.5],[27.7,-1.9],[28.0,2.9],[28.3,-5.0],[28.6,-1.2],[28.9,2.2],[29.3,-0.6],[29.7,-3.4],[30.0,-1.8],[30.4,0.8],[30.8,-3.0],[31.2,-1.4],[20.6,2.9],[20.9,-0.3],[19.8,5.6],[20.3,3.2],[19.4,1.9],[23.6,8.2],[24.2,7.9],[25.4,8.4],[26.3,6.9],[27.7,7.4],[28.6,6.0],[24.6,-6.0],[25.8,-3.2],[26.4,-4.7],[27.6,-6.2],[22.6,-2.5],[23.8,-3.1],[24.9,0.4],[24.3,-0.6],[23.7,1.2],[25.7,0.8],[27.3,0.7],[28.1,3.4],
[22.1,2.0],[22.3,-1.5],[22.6,0.8],[22.8,3.2],[23.0,-1.0],[23.2,1.5],[23.4,4.0],[23.6,-2.0],[23.8,2.3],[24.0,0.3],[24.2,-3.0],[24.4,3.5],[24.6,1.1],[24.8,-2.3],[25.0,0.6],[25.2,-0.4],[25.4,2.0],[25.6,-3.5],[25.8,2.7],[26.0,-1.0],[26.2,0.7],[26.4,-2.5],[26.6,1.7],[26.8,-0.5],[27.0,-4.0],[27.2,2.0],[27.4,-2.6],[27.6,-0.1],[27.8,2.6],[28.0,-2.1],[28.2,-4.4],[28.4,0.6],[28.6,-1.8],[28.8,-3.6],[29.0,1.3],[29.2,-0.8],[29.4,-4.8],[29.6,-0.2],[29.8,-2.4],[30.0,-4.1],[30.3,-0.7],[30.6,-2.0],[31.0,-3.8],[31.3,-1.7],[31.8,-2.7],[32.4,-3.3],[23.1,-3.2],[24.1,-4.5],[25.6,-5.3],[26.1,-4.3],[27.1,-6.4],[22.4,5.6],[23.3,6.0],[24.7,5.0],[25.9,4.8],[26.4,6.3],[27.2,4.7],[28.0,4.2],[29.6,4.0],[30.4,3.0]];

const pointSets = [pointsA, pointsB, pointsC, pointsD, pointsE, pointsF];
const trendSets = [trendA, trendB, trendC, trendD, trendE, trendF];
const bandSets = [bandA, bandB, bandC, bandD, bandE, bandF];

// layout (pixels) of each panel
const panels = [
  { left: 26, top: 0.5, width: 342, xMin: 14.55, xMax: 45.5, xTitle: false, title: [180.5, 12.3], slope: [37.7, 220.7] },
  { left: 396.7, top: 0.5, width: 342.4, xMin: 14.45, xMax: 45.55, xTitle: true, title: [560, 12.3], slope: [405.7, 221.7] },
  { left: 26, top: 267.5, width: 341.7, xMin: 14.47, xMax: 46.25, xTitle: true, title: [181.7, 279], slope: [37.3, 488.3] },
  { left: 396.7, top: 267.5, width: 342.4, xMin: 14.45, xMax: 45.55, xTitle: true, title: [559.5, 279], slope: [405.7, 488.3] },
  { left: 26.7, top: 553.2, width: 341.6, xMin: 14.46, xMax: 47.1, xTitle: true, title: [181.7, 565], slope: [37.3, 768.3] },
  { left: 396.7, top: 553.2, width: 342.4, xMin: 14.45, xMax: 45.55, xTitle: true, title: [559.5, 565], slope: [405.7, 770] },
];
const PANEL_H = 235;
const Y_MIN = -21.3;
const Y_MAX = 26.3;

export default function App() {
  const ref = useRef<HTMLDivElement>(null);
  useEffect(() => {
    if (!ref.current) return;
    const chart = echarts.init(ref.current, undefined, { renderer: "svg" });
    const axisColor = "#4a4a4a";
    const textColor = "#111";
    const grid: any[] = [];
    const xAxis: any[] = [];
    const yAxis: any[] = [];
    const series: any[] = [];
    const graphic: any[] = [];
    panels.forEach((p, i) => {
      grid.push({ left: p.left, top: p.top, width: p.width, height: PANEL_H, containLabel: false });
      xAxis.push({
        type: "value", gridIndex: i, min: p.xMin, max: p.xMax,
        axisLine: { show: true, onZero: false, lineStyle: { color: axisColor, width: 1 } },
        axisTick: { show: true, length: 4, customValues: xTickValues, lineStyle: { color: axisColor } },
        axisLabel: { customValues: xTickValues, margin: 6, fontSize: 9.3, color: textColor, fontFamily: FONT },
        splitLine: { show: false },
        name: p.xTitle ? xAxisTitle : "",
        nameLocation: "middle", nameGap: 14.5,
        nameTextStyle: { fontSize: 9.7, color: textColor, fontFamily: FONT },
      });
      yAxis.push({
        type: "value", gridIndex: i, min: Y_MIN, max: Y_MAX,
        axisLine: { show: true, onZero: false, lineStyle: { color: axisColor, width: 1 } },
        axisTick: { show: true, length: 4, customValues: yTickValues, lineStyle: { color: axisColor } },
        axisLabel: { customValues: yTickValues, rotate: 90, margin: 4.5, fontSize: 9.3, color: textColor, fontFamily: FONT },
        splitLine: { show: false },
        name: yAxisTitle, nameLocation: "middle", nameGap: 14,
        nameTextStyle: { fontSize: 10, color: textColor, fontFamily: FONT },
      });
      series.push({
        type: "custom", xAxisIndex: i, yAxisIndex: i, z: 0, silent: true,
        data: yTickValues.map((v) => [30, v]),
        encode: { x: 0, y: 1 },
        renderItem: (params: any, api: any) => {
          const cs = params.coordSys;
          const pt = api.coord([api.value(0), api.value(1)]);
          return { type: "line", shape: { x1: cs.x, y1: pt[1], x2: cs.x + cs.width, y2: pt[1] }, style: { stroke: "#ececec", lineWidth: 1 } };
        },
      });
      const b = bandSets[i];
      series.push({
        type: "custom", xAxisIndex: i, yAxisIndex: i, z: 1, silent: true,
        data: [[b[0][0], b[0][1], b[0][2], b[1][0], b[1][1], b[1][2]]],
        encode: { x: [0, 3], y: [1, 2, 4, 5] },
        renderItem: (params: any, api: any) => {
          const p1 = api.coord([api.value(0), api.value(1)]);
          const p2 = api.coord([api.value(3), api.value(4)]);
          const p3 = api.coord([api.value(3), api.value(5)]);
          const p4 = api.coord([api.value(0), api.value(2)]);
          return { type: "polygon", shape: { points: [p1, p2, p3, p4] }, style: { fill: "#dadada" } };
        },
      });
      series.push({
        type: "scatter", xAxisIndex: i, yAxisIndex: i, z: 3, silent: true,
        data: pointSets[i], symbol: "circle", symbolSize: 3,
        itemStyle: { color: "#000" },
      });
      series.push({
        type: "line", xAxisIndex: i, yAxisIndex: i, z: 4, silent: true,
        data: trendSets[i], showSymbol: false, symbol: "none",
        lineStyle: { color: "#222", width: 0.9 },
      });
      graphic.push({
        type: "text", x: p.title[0], y: p.title[1], silent: true,
        style: { text: panelTitles[i], fontSize: 11, fontFamily: FONT, fill: textColor, align: "center", verticalAlign: "middle" },
      });
      graphic.push({
        type: "text", x: p.slope[0], y: p.slope[1], silent: true,
        style: { text: slopeTexts[i], fontSize: 11, fontFamily: FONT, fill: textColor, align: "left", verticalAlign: "middle" },
      });
    });
    chart.setOption({ animation: false, backgroundColor: "#fff", grid, xAxis, yAxis, series, graphic });
    return () => chart.dispose();
  }, []);
  return <div ref={ref} style={{ position: "absolute", left: 0, top: 0, width: 740, height: 815 }} />;
}
